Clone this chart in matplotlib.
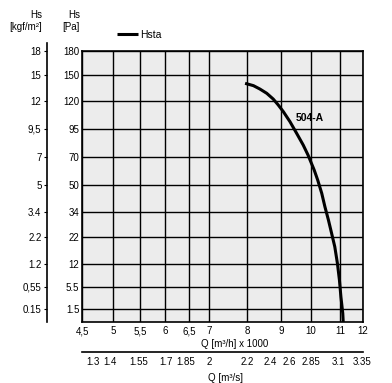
import numpy as np
import matplotlib.pyplot as plt

plt.rcParams['font.family'] = ['Liberation Sans', 'DejaVu Sans']
plt.rcParams['font.size'] = 7

# pressure axis (Pa) with matching kgf/m2 labels
pa_ticks = [1.5, 5.5, 12, 22, 34, 50, 70, 95, 120, 150, 180]
pa_labels = ['1.5', '5.5', '12', '22', '34', '50', '70', '95', '120', '150', '180']
kgf_ticks = [0.15, 0.55, 1.2, 2.2, 3.4, 5, 7, 9.5, 12, 15, 18]
kgf_labels = ['0.15', '0,55', '1.2', '2.2', '3.4', '5', '7', '9,5', '12', '15', '18']

# flow axis, m3/h x 1000 and m3/s
q_ticks = [4.5, 5, 5.5, 6, 6.5, 7, 8, 9, 10, 11, 12]
q_labels = ['4,5', '5', '5,5', '6', '6,5', '7', '8', '9', '10', '11', '12']
qs_ticks = [1.3, 1.4, 1.55, 1.7, 1.85, 2, 2.2, 2.4, 2.6, 2.85, 3.1, 3.35]
qs_labels = ['1.3', '1.4', '1.55', '1.7', '1.85', '2', '2.2', '2.4', '2.6', '2.85', '3.1', '3.35']
qs_at_q = [4.68, 4.95, 5.48, 6.02, 6.43, 7.0, 8.0, 8.68, 9.29, 10.0, 10.93, 11.96]

# fan curve 504-A
q_curve = [7.95, 8.19, 8.38, 8.58, 8.77, 8.92, 9.08, 9.30, 9.52, 9.74, 9.90, 10.11,
           10.23, 10.37, 10.48, 10.60, 10.71, 10.82, 10.91, 10.98, 11.04, 11.12, 11.14]
h_curve = [140.4, 137.7, 133.8, 128.9, 122.3, 116.4, 110.4, 101.5, 91.2, 80.7, 71.8, 60.7,
           53.6, 45.1, 37.1, 30.2, 23.8, 18.4, 12.3, 7.5, 3.7, 1.0, 0]

# the printed axes are not linear: pixel spacing of the grid
q_px = [82, 113, 140, 165, 189, 209, 247, 281, 311, 340, 363]
pa_anchor = [0] + pa_ticks
pa_px = [0, 13, 35, 58, 85, 110, 137, 165, 193, 221, 247, 271]


def lin_interp(v, xp, fp):
    v = np.asarray(v, dtype=float)
    xp = np.asarray(xp, dtype=float)
    fp = np.asarray(fp, dtype=float)
    out = np.interp(v, xp, fp)
    lo = (fp[1] - fp[0]) / (xp[1] - xp[0])
    hi = (fp[-1] - fp[-2]) / (xp[-1] - xp[-2])
    out = np.where(v < xp[0], fp[0] + (v - xp[0]) * lo, out)
    out = np.where(v > xp[-1], fp[-1] + (v - xp[-1]) * hi, out)
    return out


def q_fwd(q):
    return lin_interp(q, q_ticks, q_px)


def q_inv(p):
    return lin_interp(p, q_px, q_ticks)


def pa_fwd(h):
    return lin_interp(h, pa_anchor, pa_px)


def pa_inv(p):
    return lin_interp(p, pa_px, pa_anchor)


def s_to_q(s):
    return lin_interp(s, qs_ticks, qs_at_q)


def q_to_s(q):
    return lin_interp(q, qs_at_q, qs_ticks)


W, H = 392, 383
PT = 0.72  # points per pixel at dpi 100
fig = plt.figure(figsize=(W / 100, H / 100), dpi=100)
ax = fig.add_axes([82 / W, 1 - 322 / H, 281 / W, 271 / H])
ax.set_facecolor('#ececec')

ax.set_xscale('function', functions=(q_fwd, q_inv))
ax.set_yscale('function', functions=(pa_fwd, pa_inv))
ax.set_xlim(4.5, 12)
ax.set_ylim(0, 180)

ax.plot(q_curve, h_curve, color='black', lw=2.2, label='Hsta', solid_capstyle='butt')
ax.text(9.5, 105, '504-A', fontsize=7.5, fontweight='bold', ha='left', va='center')

ax.set_xticks(q_ticks)
ax.set_xticklabels(q_labels)
ax.set_yticks(pa_ticks)
ax.set_yticklabels(pa_labels)
ax.tick_params(length=0)
ax.tick_params(axis='x', pad=3)
ax.tick_params(axis='y', pad=2)
ax.grid(True, color='black', lw=1.0)
for s in ax.spines.values():
    s.set_linewidth(1.2)
ax.set_xlabel('Q [m³/h] x 1000')
ax.xaxis.set_label_coords(0.544, -0.063)

# kgf/m2 axis on the far left
ax_k = ax.twinx()
ax_k.set_yscale('function', functions=(lambda k: pa_fwd(np.asarray(k) * 10),
                                        lambda p: pa_inv(p) / 10))
ax_k.set_ylim(0, 18)
ax_k.yaxis.set_ticks_position('left')
ax_k.set_yticks(kgf_ticks)
ax_k.set_yticklabels(kgf_labels)
ax_k.tick_params(axis='y', length=2, width=0.8, pad=2)
for side in ['top', 'right', 'bottom']:
    ax_k.spines[side].set_visible(False)
ax_k.spines['left'].set_position(('outward', 35 * PT))
ax_k.spines['left'].set_bounds(0, 19.0)
ax_k.spines['left'].set_linewidth(1.2)

# m3/s axis below
ax_s = ax.twiny()
ax_s.set_xscale('function', functions=(lambda s: q_fwd(s_to_q(s)),
                                        lambda p: q_to_s(q_inv(p))))
ax_s.set_xlim(float(q_to_s(4.5)), float(q_to_s(12)))
ax_s.xaxis.set_ticks_position('bottom')
ax_s.xaxis.set_label_position('bottom')
ax_s.set_xticks(qs_ticks)
ax_s.set_xticklabels(qs_labels)
ax_s.tick_params(axis='x', length=0, pad=3.5)
for side in ['top', 'right', 'left']:
    ax_s.spines[side].set_visible(False)
ax_s.spines['bottom'].set_position(('outward', 30 * PT))
ax_s.spines['bottom'].set_linewidth(1.2)
ax_s.set_xlabel('Q [m³/s]')
ax_s.xaxis.set_label_coords(0.51, -0.19)

fig.text(42 / W, 1 - 21 / H, 'Hs\n[kgf/m²]', ha='right', va='center', multialignment='right', linespacing=1.35)
fig.text(80 / W, 1 - 21 / H, 'Hs\n[Pa]', ha='right', va='center', multialignment='right', linespacing=1.35)

ax.legend(loc='center left', bbox_to_anchor=(117 / W, 1 - 35 / H), bbox_transform=fig.transFigure,
          frameon=False, handlelength=2.0, handletextpad=0.2, borderpad=0, borderaxespad=0,
          fontsize=7.5)

fig.savefig('out.png', dpi=100)
